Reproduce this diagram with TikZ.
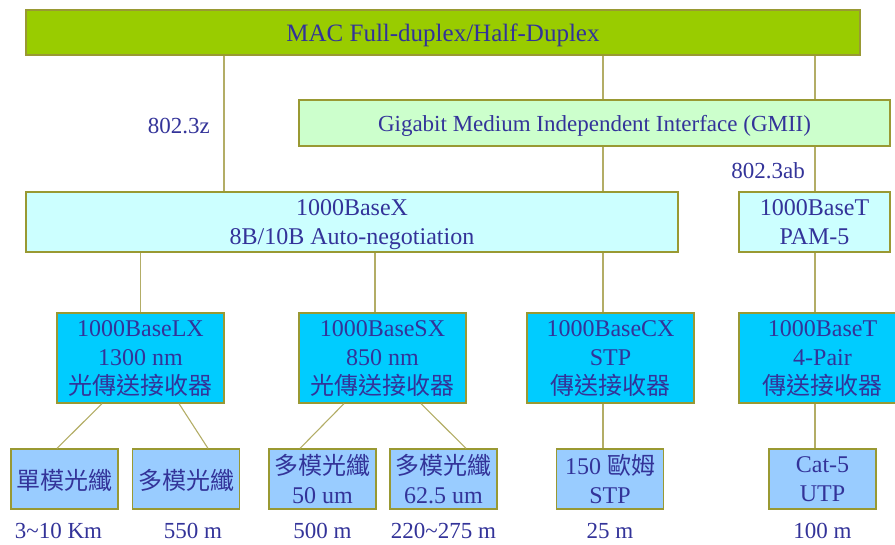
\documentclass[tikz,border=0pt]{standalone}
\usepackage{fontspec}
\setmainfont{Liberation Serif}
\newfontfamily\cjk{Noto Sans CJK TC}
\usetikzlibrary{positioning}

\definecolor{txtblue}{HTML}{333399}
\definecolor{boxedge}{HTML}{999933}
\definecolor{linkc}{HTML}{B3AD66}
\definecolor{macfill}{HTML}{99CC00}
\definecolor{gmiifill}{HTML}{CCFFCC}
\definecolor{pcsfill}{HTML}{CCFFFF}
\definecolor{pmafill}{HTML}{00CCFF}
\definecolor{mediafill}{HTML}{99CCFF}

\begin{document}
\begin{tikzpicture}[
  x=1pt, y=-1pt,
  box/.style={draw=boxedge, line width=1.2pt, align=center, text=txtblue,
              inner sep=0pt, text depth=0pt, font=\fontsize{24}{29}\selectfont},
  pma/.style={box, fill=pmafill, minimum width=167pt, minimum height=90pt},
  media/.style={box, fill=mediafill, minimum width=107pt, minimum height=60pt},
  link/.style={draw=linkc, line width=1.1pt},
  lbl/.style={text=txtblue, inner sep=2pt, font=\fontsize{23}{28}\selectfont}
]
\useasboundingbox (0,0) rectangle (895,544);
\clip (0,0) rectangle (895,544);

% upper layers
\node[box, fill=macfill, minimum width=834pt, minimum height=45pt,
      font=\fontsize{25}{30}\selectfont] (mac) at (443,32.5) {MAC Full-duplex/Half-Duplex};
\node[box, fill=gmiifill, minimum width=591pt, minimum height=46pt,
      font=\fontsize{23}{27}\selectfont] (gmii) at (594.5,123) {Gigabit Medium Independent Interface (GMII)};
\node[box, fill=pcsfill, minimum width=652pt, minimum height=60pt] (basex) at (352,222)
  {1000BaseX\\8B/10B Auto-negotiation};
\node[box, fill=pcsfill, minimum width=151pt, minimum height=60pt] (baset) at (814.5,222)
  {1000BaseT\\PAM-5};

% transceivers
\node[pma] (lx) at (140.5,358) {1000BaseLX\\1300 nm\\{\cjk 光傳送接收器}};
\node[pma] (sx) at (382.5,358) {1000BaseSX\\850 nm\\{\cjk 光傳送接收器}};
\node[pma] (cx) at (610.5,358) {1000BaseCX\\STP\\{\cjk 傳送接收器}};
\node[pma] (bt) at (822.5,358) {1000BaseT\\4-Pair\\{\cjk 傳送接收器}};

% media
\node[media] (sm)  at (64.5,479)  {\cjk 單模光纖};
\node[media] (mm)  at (186,479)   {\cjk 多模光纖};
\node[media] (m50) at (322.5,479) {{\cjk 多模光纖}\\50 um};
\node[media] (m62) at (443.5,479) {{\cjk 多模光纖}\\62.5 um};
\node[media] (stp) at (610,479)   {150 {\cjk 歐姆}\\STP};
\node[media] (utp) at (822.5,479) {Cat-5\\UTP};

% distances
\node[lbl, below=11pt of sm, xshift=-6pt] (dsm) {3\textasciitilde10 Km};
\node[lbl, below=11pt of mm, xshift=7pt]  (dmm) {550 m};
\node[lbl, below=11pt of m50] (d50) {500 m};
\node[lbl, below=11pt of m62] (d62) {220\textasciitilde275 m};
\node[lbl, below=11pt of stp] (dstp) {25 m};
\node[lbl, below=11pt of utp] (dutp) {100 m};

% connectors
\coordinate (xz) at (224,0);
\coordinate (xg) at (603,0);
\coordinate (xt) at (815,0);
\draw[link] (mac.south -| xz) -- (basex.north -| xz) coordinate[midway] (mz);
\node[lbl, left=12pt of mz, yshift=-3pt] (l3z) {802.3z};
\draw[link] (mac.south -| xg) -- (gmii.north -| xg);
\draw[link] (gmii.south -| xg) -- (basex.north -| xg);
\draw[link] (basex.south -| xg) -- (cx.north -| xg);
\draw[link] (cx.south -| xg) -- (stp.north -| xg);
\draw[link] (mac.south -| xt) -- (gmii.north -| xt);
\draw[link] (gmii.south -| xt) -- (baset.north -| xt) coordinate[midway] (mab);
\node[lbl, left=8pt of mab, yshift=-2pt] (l3ab) {802.3ab};
\draw[link] (baset.south -| xt) -- (bt.north -| xt);
\draw[link] (bt.south -| xt) -- (utp.north -| xt);
\draw[link] (basex.south -| lx.north) -- (lx.north);
\draw[link] ([xshift=-7.5pt]basex.south -| sx.north) -- ([xshift=-7.5pt]sx.north);
\draw[link] ([xshift=-38.5pt]lx.south) -- ([xshift=-7.5pt]sm.north);
\draw[link] ([xshift=38.5pt]lx.south) -- ([xshift=22pt]mm.north);
\draw[link] ([xshift=-38.5pt]sx.south) -- ([xshift=-22.5pt]m50.north);
\draw[link] ([xshift=38.5pt]sx.south) -- ([xshift=22.5pt]m62.north);
\end{tikzpicture}
\end{document}
